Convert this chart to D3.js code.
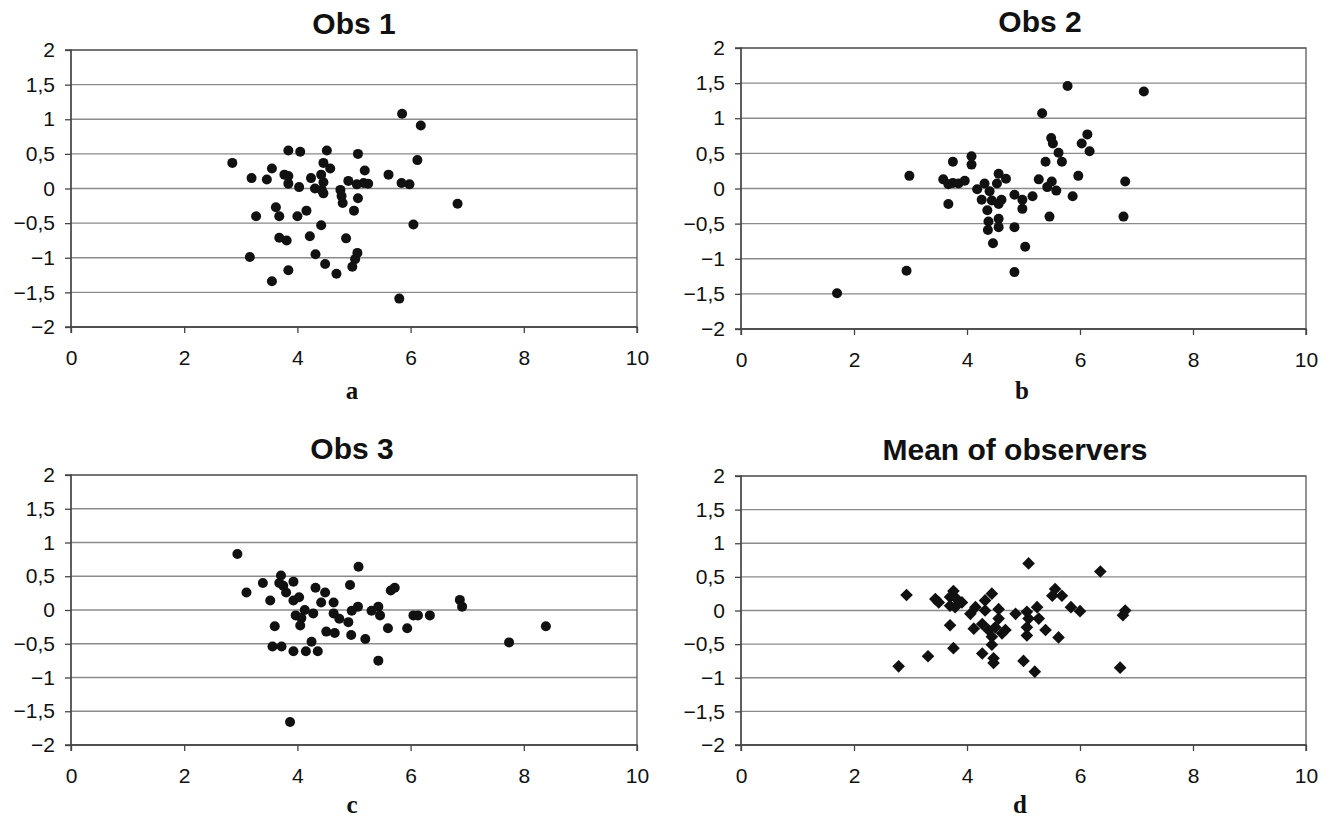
<!DOCTYPE html>
<html lang="en">
<head>
  <meta charset="UTF-8">
  <title>Observer scatter plots</title>
  <style>
    body { margin: 0; background: #fff; font-family: "Liberation Sans", Arial, sans-serif; }
    .grid line { stroke: #8a8a8a; stroke-width: 1.3px; }
    .frame { fill: none; stroke: #5a5a5a; stroke-width: 1.3px; }
    .axis path, .axis line { stroke: #444; stroke-width: 1.3px; }
    .axis text { font-family: "Liberation Sans", Arial, sans-serif; font-size: 21px; fill: #111; }
    .title { font-family: "Liberation Sans", Arial, sans-serif; font-size: 30px; font-weight: bold; fill: #111; }
    .letter { font-family: "Liberation Serif", "Times New Roman", serif; font-size: 25px; font-weight: bold; fill: #111; }
  </style>
</head>
<body>
  <svg id="chart" width="1330" height="819"></svg>
  <script src="https://cdn.jsdelivr.net/npm/d3@7/dist/d3.min.js"></script>
  <script>
    // tick values and labels (comma decimals, as in the source)
    const xTicks = [0, 2, 4, 6, 8, 10];
    const yTicks = [2, 1.5, 1, 0.5, 0, -0.5, -1, -1.5, -2];
    const yTickLabels = ["2", "1,5", "1", "0,5", "0", "\u22120,5", "\u22121", "\u22121,5", "\u22122"];

    const titles = ["Obs 1", "Obs 2", "Obs 3", "Mean of observers"];
    const letters = ["a", "b", "c", "d"];

    // Obs 1
    const obs1X = [5.85, 6.18, 3.84, 4.05, 4.52, 5.07, 6.12, 2.85, 4.46, 4.58, 3.55, 3.19, 3.46, 3.77, 3.84,
      3.84, 4.03, 4.24, 4.42, 4.31, 4.46, 4.43, 4.46, 5.19, 5.61, 4.90, 5.05, 5.17, 5.25, 5.84, 5.98, 4.76,
      4.78, 4.80, 5.07, 5.00, 6.83, 3.62, 3.27, 3.68, 4.00, 4.16, 4.42, 6.05, 3.68, 3.81, 4.22, 4.86, 3.16,
      4.32, 5.06, 5.02, 4.97, 3.84, 4.49, 4.69, 3.55, 5.80];
    const obs1Y = [1.08, 0.91, 0.55, 0.53, 0.55, 0.50, 0.41, 0.37, 0.37, 0.29, 0.29, 0.15, 0.13, 0.20, 0.18,
      0.07, 0.02, 0.15, 0.20, 0.00, 0.09, -0.02, -0.07, 0.26, 0.20, 0.11, 0.06, 0.08, 0.07, 0.08, 0.06, -0.02,
      -0.11, -0.21, -0.14, -0.32, -0.22, -0.27, -0.40, -0.40, -0.40, -0.32, -0.53, -0.52, -0.71, -0.75, -0.69,
      -0.72, -0.99, -0.95, -0.93, -1.02, -1.13, -1.18, -1.09, -1.23, -1.34, -1.59];

    // Obs 2
    const obs2X = [1.70, 2.93, 2.98, 3.75, 3.58, 3.67, 3.75, 3.85, 3.96, 3.67, 4.08, 4.08, 4.18, 4.31, 4.56,
      4.69, 4.53, 4.40, 4.26, 4.44, 4.61, 4.56, 4.36, 4.56, 4.56, 4.38, 4.37, 4.46, 4.84, 4.98, 4.98, 4.84,
      5.03, 4.84, 5.16, 5.27, 5.33, 5.39, 5.42, 5.50, 5.58, 5.46, 5.49, 5.52, 5.62, 5.68, 5.78, 5.87, 5.97,
      6.03, 6.13, 6.17, 6.77, 6.80, 7.13];
    const obs2Y = [-1.49, -1.17, 0.18, 0.38, 0.13, 0.06, 0.08, 0.07, 0.11, -0.22, 0.46, 0.34, -0.01, 0.07, 0.21,
      0.14, 0.07, -0.04, -0.16, -0.17, -0.16, -0.22, -0.31, -0.43, -0.55, -0.47, -0.59, -0.78, -0.09, -0.16,
      -0.29, -0.55, -0.83, -1.19, -0.11, 0.13, 1.07, 0.38, 0.02, 0.10, -0.03, -0.40, 0.72, 0.64, 0.51, 0.38,
      1.46, -0.11, 0.18, 0.64, 0.77, 0.53, -0.40, 0.10, 1.38];

    // Obs 3
    const obs3X = [2.94, 5.08, 3.10, 3.39, 3.71, 3.68, 3.75, 3.80, 3.93, 3.52, 3.93, 4.03, 4.32, 4.49, 4.42,
      4.64, 4.93, 5.65, 5.72, 4.13, 3.97, 4.07, 4.05, 4.28, 4.64, 4.74, 4.96, 5.07, 4.90, 5.31, 5.43, 5.46,
      3.60, 4.51, 4.66, 4.95, 5.20, 5.60, 5.94, 6.05, 6.13, 6.34, 6.87, 6.91, 7.74, 8.39, 3.56, 3.72, 3.93,
      4.15, 4.36, 4.25, 5.43, 3.87];
    const obs3Y = [0.83, 0.64, 0.26, 0.40, 0.51, 0.40, 0.36, 0.26, 0.42, 0.14, 0.14, 0.19, 0.33, 0.26, 0.11,
      0.11, 0.37, 0.29, 0.33, 0.00, -0.08, -0.12, -0.23, -0.05, -0.05, -0.13, -0.01, 0.05, -0.18, -0.01, 0.05,
      -0.08, -0.24, -0.32, -0.34, -0.37, -0.43, -0.27, -0.27, -0.08, -0.08, -0.08, 0.15, 0.05, -0.48, -0.24,
      -0.54, -0.54, -0.61, -0.61, -0.61, -0.47, -0.75, -1.66];

    // Mean of observers
    const meanX = [5.09, 6.36, 2.93, 3.44, 3.50, 3.76, 3.70, 3.82, 3.91, 3.70, 3.79, 4.06, 4.15, 4.32, 4.44,
      4.56, 4.32, 3.70, 4.12, 4.27, 4.38, 4.50, 4.56, 4.62, 4.68, 4.44, 4.44, 4.27, 4.47, 4.47, 3.76, 3.31,
      2.79, 4.86, 5.06, 5.24, 5.09, 5.27, 5.06, 5.06, 5.39, 5.62, 5.00, 5.20, 5.51, 5.56, 5.68, 5.84, 6.00,
      6.80, 6.76, 6.71];
    const meanY = [0.70, 0.58, 0.23, 0.17, 0.12, 0.29, 0.20, 0.17, 0.12, 0.07, 0.05, -0.05, 0.05, 0.15, 0.25,
      0.02, 0.00, -0.22, -0.27, -0.20, -0.29, -0.25, -0.12, -0.34, -0.29, -0.39, -0.51, -0.64, -0.71, -0.78,
      -0.56, -0.68, -0.83, -0.05, -0.02, 0.05, -0.12, -0.12, -0.25, -0.37, -0.29, -0.40, -0.75, -0.91, 0.22,
      0.32, 0.22, 0.05, -0.01, 0.00, -0.07, -0.85];

    const seriesX = [obs1X, obs2X, obs3X, meanX];
    const seriesY = [obs1Y, obs2Y, obs3Y, meanY];

    // panel frames (pixels)
    const boxes = [
      { left: 71, right: 637, top: 50, bottom: 327, titleX: 354, letterX: 352, letterY: 399, marker: "dot" },
      { left: 741, right: 1306, top: 48, bottom: 329, titleX: 1040, letterX: 1022, letterY: 399, marker: "dot" },
      { left: 71, right: 637, top: 475, bottom: 745, titleX: 352, letterX: 352, letterY: 813, marker: "dot" },
      { left: 741, right: 1306, top: 476, bottom: 745, titleX: 1015, letterX: 1020, letterY: 813, marker: "diamond" }
    ];

    const svg = d3.select("#chart");

    boxes.forEach((b, i) => {
      const x = d3.scaleLinear().domain([0, 10]).range([b.left, b.right]);
      const y = d3.scaleLinear().domain([-2, 2]).range([b.bottom, b.top]);
      const g = svg.append("g");

      // horizontal gridlines
      g.append("g").attr("class", "grid")
        .selectAll("line")
        .data(yTicks)
        .join("line")
        .attr("x1", b.left).attr("x2", b.right)
        .attr("y1", d => y(d)).attr("y2", d => y(d));

      g.append("rect").attr("class", "frame")
        .attr("x", b.left).attr("y", b.top)
        .attr("width", b.right - b.left).attr("height", b.bottom - b.top);

      g.append("g").attr("class", "axis")
        .attr("transform", `translate(${b.left},0)`)
        .call(d3.axisLeft(y).tickValues(yTicks).tickSize(6).tickPadding(10)
          .tickFormat((d, k) => yTickLabels[k]))
        .call(s => s.select(".domain").attr("d", `M-6,${b.top}H0V${b.bottom}H-6`));

      g.append("g").attr("class", "axis")
        .attr("transform", `translate(0,${b.bottom})`)
        .call(d3.axisBottom(x).tickValues(xTicks).tickSize(6).tickPadding(17).tickFormat(d3.format("d")))
        .call(s => s.select(".domain").attr("d", `M${b.left},6V0H${b.right}V6`));

      const xs = seriesX[i], ys = seriesY[i];
      const pts = xs.map((v, k) => [v, ys[k]]);

      if (b.marker === "dot") {
        g.append("g").selectAll("circle")
          .data(pts)
          .join("circle")
          .attr("cx", d => x(d[0]))
          .attr("cy", d => y(d[1]))
          .attr("r", 5)
          .attr("fill", "#111");
      } else {
        const sym = d3.symbol(d3.symbolSquare, 80);
        g.append("g").selectAll("path")
          .data(pts)
          .join("path")
          .attr("d", sym)
          .attr("transform", d => `translate(${x(d[0])},${y(d[1])}) rotate(45)`)
          .attr("fill", "#111");
      }

      g.append("text").attr("class", "title")
        .attr("x", b.titleX).attr("y", b.top - 16)
        .attr("text-anchor", "middle")
        .text(titles[i]);

      g.append("text").attr("class", "letter")
        .attr("x", b.letterX).attr("y", b.letterY)
        .attr("text-anchor", "middle")
        .text(letters[i]);
    });
  </script>
</body>
</html>
